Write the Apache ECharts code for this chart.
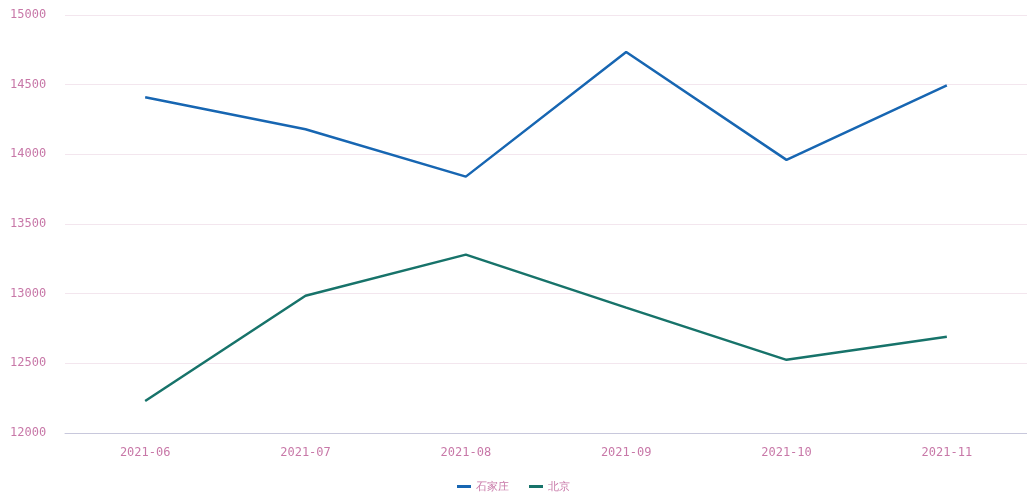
<!DOCTYPE html>
<html>
<head>
<meta charset="utf-8">
<style>html,body{margin:0;padding:0;background:#fff;}#c{width:1027px;height:499px;}</style>
<script src="https://cdn.jsdelivr.net/npm/echarts@6/dist/echarts.min.js"></script>
</head>
<body>
<div id="c"></div>
<script>
const categories = ['2021-06', '2021-07', '2021-08', '2021-09', '2021-10', '2021-11'];
const seriesNames = ['石家庄', '北京'];
const seriesA = [14410, 14180, 13840, 14735, 13960, 14495];
const seriesB = [12230, 12985, 13280, 12900, 12525, 12690];
const colors = ['#1766b2', '#17736a'];

const labelStyle = { color: '#c878a8', fontSize: 12, fontFamily: 'DejaVu Sans Mono' };
const chart = echarts.init(document.getElementById('c'));
chart.setOption({
  animation: false,
  backgroundColor: '#fff',
  color: colors,
  grid: { left: 65, top: 15, width: 970, bottom: 66, containLabel: false },
  legend: {
    bottom: 2, left: 'center',
    icon: 'rect', itemWidth: 14, itemHeight: 3, itemGap: 20,
    textStyle: { color: '#c878a8', fontSize: 11 },
    data: seriesNames
  },
  xAxis: {
    type: 'category', data: categories, boundaryGap: true,
    axisLine: { lineStyle: { color: '#c8c8dc' } },
    axisTick: { alignWithLabel: true, lineStyle: { color: '#c8c8dc' } },
    axisLabel: Object.assign({ margin: 14 }, labelStyle)
  },
  yAxis: {
    type: 'value', min: 12000, max: 15000, interval: 500,
    axisLine: { show: false }, axisTick: { show: false },
    splitLine: { lineStyle: { color: '#f3e6ee' } },
    axisLabel: Object.assign({ margin: 55, formatter: function (v) { return String(v); } }, labelStyle, { align: 'left' })
  },
  series: [
    { name: seriesNames[0], type: 'line', data: seriesA, showSymbol: false, symbol: 'none', lineStyle: { width: 2.5, color: colors[0] } },
    { name: seriesNames[1], type: 'line', data: seriesB, showSymbol: false, symbol: 'none', lineStyle: { width: 2.5, color: colors[1] } }
  ]
});
</script>
</body>
</html>
